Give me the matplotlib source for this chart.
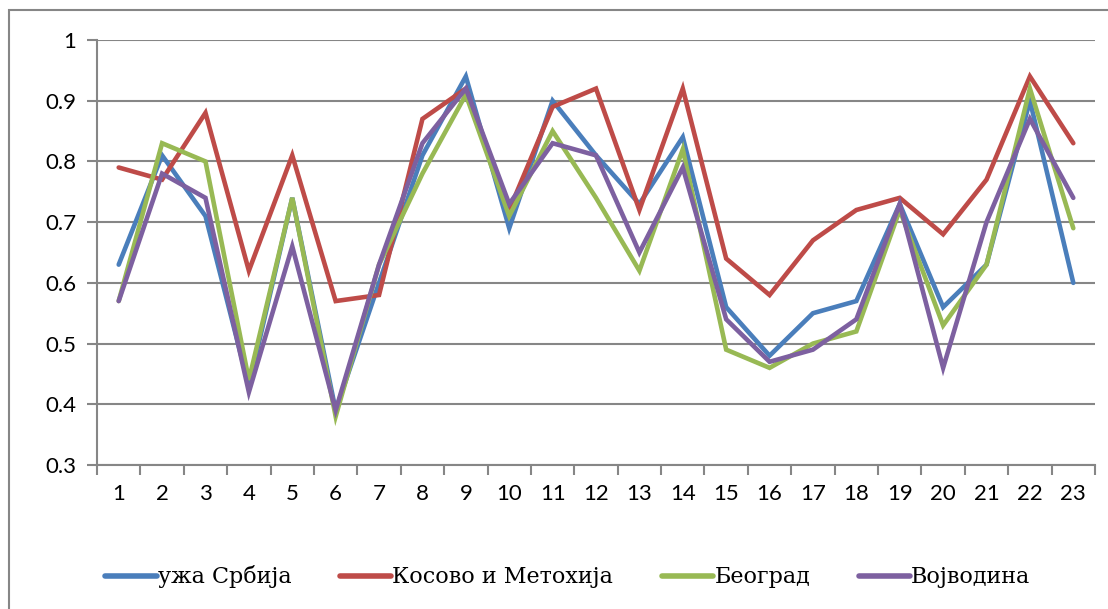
import numpy as np
import matplotlib.pyplot as plt
from matplotlib.patches import Rectangle

# данни по региони
kategorije = list(range(1, 24))
uza_srbija = [0.63, 0.81, 0.71, 0.43, 0.74, 0.39, 0.60, 0.81, 0.94, 0.69, 0.90, 0.81,
              0.73, 0.84, 0.56, 0.48, 0.55, 0.57, 0.73, 0.56, 0.63, 0.90, 0.60]
kosovo = [0.79, 0.77, 0.88, 0.62, 0.81, 0.57, 0.58, 0.87, 0.92, 0.72, 0.89, 0.92,
          0.72, 0.92, 0.64, 0.58, 0.67, 0.72, 0.74, 0.68, 0.77, 0.94, 0.83]
beograd = [0.57, 0.83, 0.80, 0.44, 0.74, 0.38, 0.63, 0.78, 0.91, 0.71, 0.85, 0.74,
           0.62, 0.82, 0.49, 0.46, 0.50, 0.52, 0.72, 0.53, 0.63, 0.92, 0.69]
vojvodina = [0.57, 0.78, 0.74, 0.42, 0.66, 0.39, 0.63, 0.83, 0.92, 0.73, 0.83, 0.81,
             0.65, 0.79, 0.54, 0.47, 0.49, 0.54, 0.73, 0.46, 0.70, 0.87, 0.74]
nazivi = ['ужа Србија', 'Косово и Метохија', 'Београд', 'Војводина']
boje = ['#4A7EBB', '#BE4B48', '#98B954', '#7D60A0']

sivo = '#868686'

fig = plt.figure(figsize=(11.08, 6.09), dpi=100)
ax = fig.add_axes([97/1108, 1 - 465/609, (1095 - 97)/1108, (465 - 40)/609])

for serija, naziv, boja in zip([uza_srbija, kosovo, beograd, vojvodina], nazivi, boje):
    ax.plot(kategorije, serija, color=boja, lw=3.3, label=naziv,
            solid_joinstyle='miter', solid_capstyle='round')

ax.set_xlim(0.5, 23.5)
ax.set_ylim(0.3, 1.0)
ax.set_yticks(np.arange(0.3, 1.01, 0.1))
ax.set_yticklabels(['0.3', '0.4', '0.5', '0.6', '0.7', '0.8', '0.9', '1'])
ax.set_xticks(kategorije)
ax.set_xticks(np.arange(0.5, 24, 1), minor=True)
ax.tick_params(axis='x', which='major', length=0, pad=14, labelsize=16)
ax.tick_params(axis='x', which='minor', length=7, width=1.5, color=sivo)
ax.tick_params(axis='y', length=7, width=1.5, color=sivo, labelsize=16, pad=8)
for lbl in ax.get_xticklabels() + ax.get_yticklabels():
    lbl.set_family('Lato')

ax.grid(axis='y', color=sivo, lw=1.5)
ax.set_axisbelow(True)
for s in ['top', 'right']:
    ax.spines[s].set_visible(False)
for s in ['left', 'bottom']:
    ax.spines[s].set_color(sivo)
    ax.spines[s].set_linewidth(1.5)

leg = fig.legend(loc='center', bbox_to_anchor=(568/1108, 1 - 577/609), ncol=4, frameon=False,
                 prop={'family': 'DejaVu Serif', 'size': 16}, handlelength=2.3,
                 handletextpad=0.05, columnspacing=2.2)
for h in leg.get_lines():
    h.set_linewidth(4)

# okvir grafikona
fig.patches.append(Rectangle((9/1108, -0.2), 1.2, 1.2 - 10/609, transform=fig.transFigure,
                             fill=False, edgecolor=sivo, lw=1.5))

fig.savefig('out.png', dpi=100)
